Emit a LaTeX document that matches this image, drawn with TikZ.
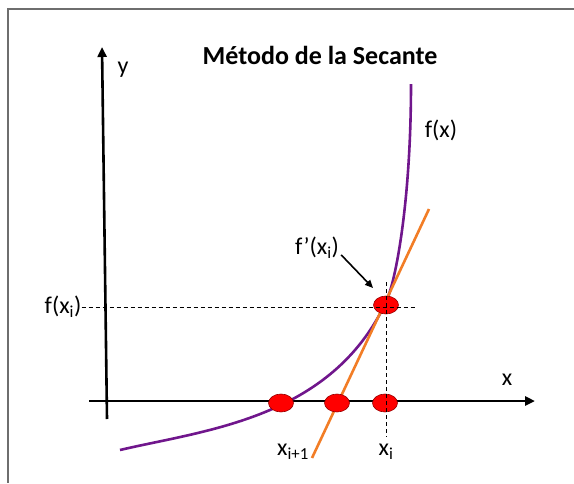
\documentclass[tikz,border=0pt]{standalone}
\usepackage{fontspec}
\setmainfont{Carlito}
\usepackage{tikz}
\usetikzlibrary{arrows.meta,shapes.geometric}

\definecolor{curvepurple}{RGB}{112,22,140}
\definecolor{secorange}{RGB}{242,125,38}
\definecolor{rootred}{RGB}{255,0,0}
\definecolor{rootedge}{RGB}{150,0,0}
\definecolor{framegray}{RGB}{110,110,110}

\begin{document}
\begin{tikzpicture}[
    x=1pt, y=-1pt,
    font=\fontsize{24}{26}\selectfont,
    % Styles
    axis/.style={line width=2.6pt, -{Triangle[length=10pt,width=9pt]}},
    guide/.style={line width=0.7pt, dash pattern=on 4pt off 3pt},
    fcurve/.style={line width=2.6pt, draw=curvepurple},
    secline/.style={line width=2.6pt, draw=secorange},
    root/.style={ellipse, draw=rootedge, line width=0.6pt, fill=rootred, minimum width=25pt, minimum height=18pt, inner sep=0pt},
    lbl/.style={inner sep=0pt},
    pointer/.style={line width=1.6pt, -{Triangle[length=8pt,width=7pt]}},
]
    \useasboundingbox (0,0) rectangle (574,483);

    % frame
    \draw[framegray, line width=1.2pt] (574,9) -- (8,9) -- (8,483);

    \node[lbl, font=\fontsize{26}{28}\selectfont\bfseries] (title) at (320,55) {Método de la Secante};

    % axes
    \coordinate (ybot) at (107,419);
    \coordinate (ytop) at (102,47);
    \coordinate (xleft) at (89,401);
    \coordinate (xtip) at (535,401);
    \draw[axis] (ybot) -- (ytop);
    \draw[axis] (xleft) -- (xtip);
    \node[lbl] (ylbl) at (123,70) {y};
    \node[lbl] (xlbl) at (507,380) {x};

    % function and secant
    \coordinate (fstart) at (120,450);
    \coordinate (fmid) at (386,302);
    \coordinate (fend) at (411,84);
    \draw[fcurve] (fstart) .. controls (205,430) and (331,419) .. (fmid)
                           .. controls (396,281) and (411,200) .. (fend);
    \coordinate (slow) at (312,458);
    \coordinate (shigh) at (429,209);
    \draw[secline] (slow) -- (shigh);

    % points
    \node[root] (r1) at (281,403) {};
    \node[root] (r2) at (337,403) {};
    \node[root] (r3) at (385,403) {};
    \node[root] (pxi) at (386,305) {};

    % guides
    \node[lbl] (fxi) at (63,307) {f(x\textsubscript{i})};
    \coordinate (hend) at (415,307);
    \coordinate (vtop) at (386,282);
    \coordinate (vbot) at (386,437);
    \draw[guide] (fxi.east) -- (hend);
    \draw[guide] (vtop) -- (vbot);

    % labels
    \node[lbl] (fx) at (441,130) {f(x)};
    \node[lbl] (fp) at (317,248) {f’(x\textsubscript{i})};
    \node[lbl] (xi) at (386,452) {x\textsubscript{i}};
    \node[lbl] (xip) at (293,452) {x\textsubscript{i+1}};
    \coordinate (ptip) at (373,288);
    \draw[pointer] (fp.south east) ++(2pt,4pt) -- (ptip);
\end{tikzpicture}
\end{document}
